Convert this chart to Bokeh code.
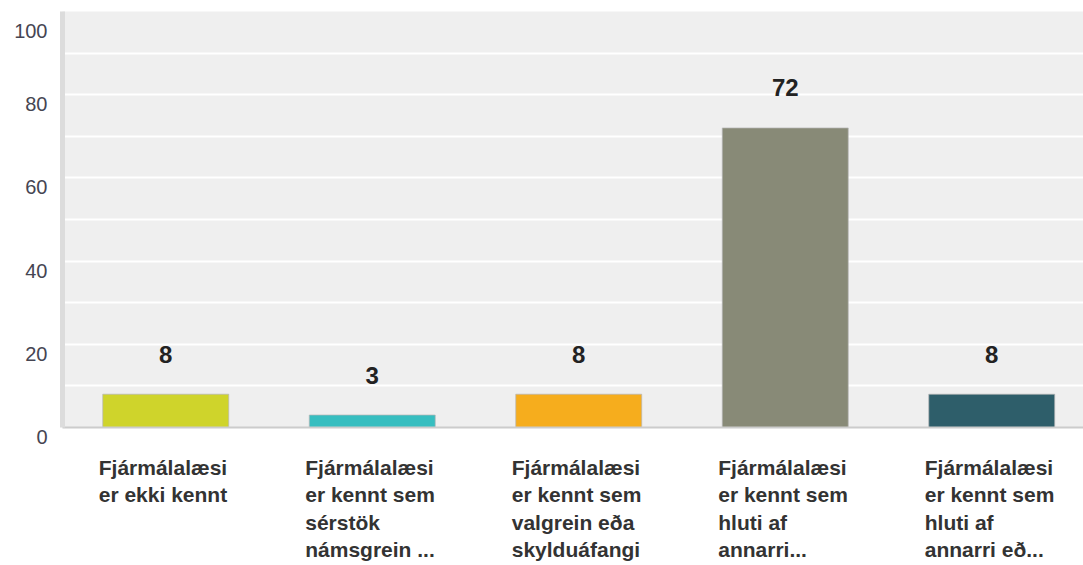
from bokeh.plotting import figure
from bokeh.layouts import column
from bokeh.models import ColumnDataSource, Range1d, FixedTicker
from bokeh.core.properties import value
from bokeh.embed import file_html
from bokeh.resources import INLINE

categories = [
    "Fjármálalæsi\ner ekki kennt",
    "Fjármálalæsi\ner kennt sem\nsérstök\nnámsgrein ...",
    "Fjármálalæsi\ner kennt sem\nvalgrein eða\nskylduáfangi",
    "Fjármálalæsi\ner kennt sem\nhluti af\nannarri...",
    "Fjármálalæsi\ner kennt sem\nhluti af\nannarri eð...",
]
values = [8, 3, 8, 72, 8]
colors = ["#cfd42b", "#37bec0", "#f6ad1d", "#888a77", "#2e5e6a"]
y_ticks = [0, 20, 40, 60, 80, 100]
grid_ticks = [10, 20, 30, 40, 50, 60, 70, 80, 90, 100]

FONT = "Liberation Sans"
W, H = 1083, 565
LEFT, TOP = 62, 11
BOTTOM1 = 20
H1 = 427 + BOTTOM1   # chart figure height (frame bottom at 427)
H2 = H - H1          # category label strip
xs = list(range(len(categories)))
src = ColumnDataSource(dict(x=xs, v=values, c=colors, lab=[str(v) for v in values]))

px_per_cat = 206.5
xr = Range1d(-0.5, -0.5 + (W - LEFT) / px_per_cat)

p = figure(width=W, height=H1, output_backend="svg", toolbar_location=None,
           x_range=xr, y_range=Range1d(0, 100),
           min_border_left=LEFT, min_border_top=TOP, min_border_right=0,
           min_border_bottom=BOTTOM1)
p.outline_line_color = None
p.background_fill_color = "#efefef"
p.border_fill_color = "white"

p.vbar(x="x", top="v", width=0.61, bottom=0, fill_color="c", line_color="#b5b5b5",
       line_alpha=0.7, line_width=1, source=src)
p.text(x="x", y="v", text="lab", y_offset=-40, text_align="center", text_baseline="middle",
       text_font=value(FONT), text_font_style="bold", text_font_size="24px",
       text_color="#222222", source=src)

p.xgrid.grid_line_color = None
p.ygrid.ticker = FixedTicker(ticks=grid_ticks)
p.ygrid.grid_line_color = "white"
p.ygrid.grid_line_width = 2

ya = p.yaxis[0]
ya.ticker = FixedTicker(ticks=y_ticks)
ya.major_label_overrides = {t: "\n" + str(t) for t in y_ticks}
ya.axis_line_color = "#dcdcdc"
ya.axis_line_width = 5
ya.major_tick_line_color = None
ya.minor_tick_line_color = None
ya.major_tick_out = 0
ya.major_label_standoff = 15
ya.major_label_text_font = FONT
ya.major_label_text_font_size = "20px"
ya.major_label_text_color = "#454552"
ya.major_label_text_line_height = 0.87

xa = p.xaxis[0]
xa.ticker = FixedTicker(ticks=xs)
xa.major_label_overrides = {i: "" for i in xs}
xa.axis_line_color = "#cccccc"
xa.axis_line_width = 2
xa.major_tick_line_color = None
xa.minor_tick_line_color = None
xa.major_tick_out = 0
xa.major_tick_in = 0
xa.major_label_standoff = 0

# category label strip sharing the chart's x scale; lines left aligned
q = figure(width=W, height=H2, output_backend="svg", toolbar_location=None,
           x_range=xr, y_range=Range1d(0, 1),
           min_border_left=LEFT, min_border_top=0, min_border_right=0, min_border_bottom=0)
q.axis.visible = False
q.grid.visible = False
q.outline_line_color = None
q.background_fill_color = "white"
q.border_fill_color = "white"
lsrc = ColumnDataSource(dict(x=xs, y=[1] * len(xs), t=categories))
q.text(x="x", y="y", text="t", x_offset=-67, y_offset=453 + 2 - H1, text_align="left",
       text_baseline="top", text_font=value(FONT), text_font_size="21px",
       text_font_style="bold", text_color="#333333", text_line_height=1.2, source=lsrc)

layout = column(p, q, spacing=0)
open("out.html", "w").write(file_html(layout, INLINE))
